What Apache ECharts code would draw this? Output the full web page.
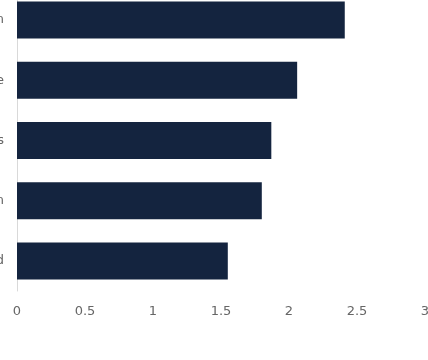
<!DOCTYPE html>
<html>
<head>
<meta charset="utf-8">
<script src="https://cdn.jsdelivr.net/npm/echarts@6/dist/echarts.min.js"></script>
<style>html,body{margin:0;padding:0;background:#fff}#c{width:428px;height:360px}</style>
</head>
<body>
<div id="c"></div>
<script>
const categories = ["Sweden", "Singapore", "United States", "Britain", "Switzerland"];
const values = [2.41, 2.06, 1.87, 1.80, 1.55];
const xTicks = { min: 0, max: 3, interval: 0.5 };

const chart = echarts.init(document.getElementById('c'), null, { renderer: 'canvas' });
chart.setOption({
  animation: false,
  grid: { left: 17, right: 3, top: -10, bottom: 69, containLabel: false, outerBoundsMode: 'none' },
  xAxis: {
    type: 'value', min: xTicks.min, max: xTicks.max, interval: xTicks.interval,
    axisLine: { show: false }, axisTick: { show: false }, splitLine: { show: false },
    axisLabel: { color: '#666', fontFamily: 'DejaVu Sans', fontSize: 13, margin: 14 }
  },
  yAxis: {
    type: 'category', data: categories, inverse: true,
    axisLine: { show: true, lineStyle: { color: '#d9d9d9', width: 1 } },
    axisTick: { show: false },
    axisLabel: { color: '#666', fontFamily: 'DejaVu Sans', fontSize: 13, margin: 13 }
  },
  series: [{
    type: 'bar', data: values, barWidth: 37,
    itemStyle: { color: '#14243f' }
  }]
});
</script>
</body>
</html>
